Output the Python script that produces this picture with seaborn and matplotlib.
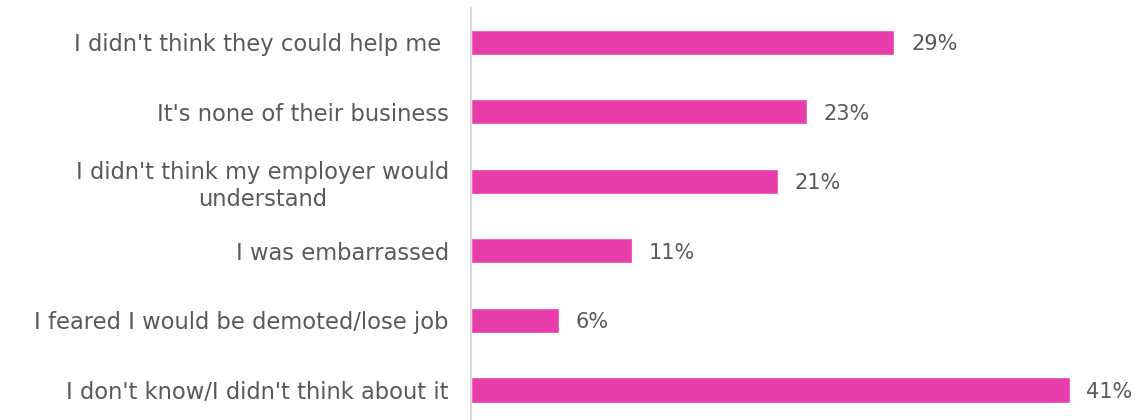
import matplotlib
matplotlib.use("Agg")
import matplotlib.pyplot as plt
import seaborn as sns
import pandas as pd

reasons = [
    "I didn't think they could help me ",
    "It's none of their business",
    "I didn't think my employer would\nunderstand",
    "I was embarrassed",
    "I feared I would be demoted/lose job",
    "I don't know/I didn't think about it",
]
shares = [29, 23, 21, 11, 6, 41]
value_labels = ["29%", "23%", "21%", "11%", "6%", "41%"]

BAR = "#E83DAB"
TEXT = "#595959"

sns.set_theme(style="white")
plt.rcParams["font.family"] = ["DejaVu Sans"]

df = pd.DataFrame({"reason": reasons, "share": shares})

fig = plt.figure(figsize=(11.38, 4.20), dpi=100)
ax = fig.add_axes([471 / 1138, 0.0, 1 - 471 / 1138, 1 - 8 / 420])

sns.barplot(data=df, y="reason", x="share", orient="h", color=BAR,
            saturation=1, width=0.36, ax=ax)

ax.set_xlim(0, 667 / 14.6)
ax.set_ylim(5.431, -0.489)

for i, (v, lab) in enumerate(zip(shares, value_labels)):
    ax.text(v + 1.15, i + 0.03, lab, va="center", ha="left", fontsize=15,
            color=TEXT)

ax.set_xlabel("")
ax.set_ylabel("")
ax.set_xticks([])
ax.tick_params(axis="y", length=0, pad=16)
for lab in ax.get_yticklabels():
    lab.set_fontsize(16.3)
    lab.set_color(TEXT)
    lab.set_multialignment("center")
    lab.set_linespacing(1.25)

for s in ["top", "right", "bottom"]:
    ax.spines[s].set_visible(False)
ax.spines["left"].set_color("#D9D9D9")
ax.spines["left"].set_linewidth(1.5)

fig.savefig("out.png", dpi=100)
